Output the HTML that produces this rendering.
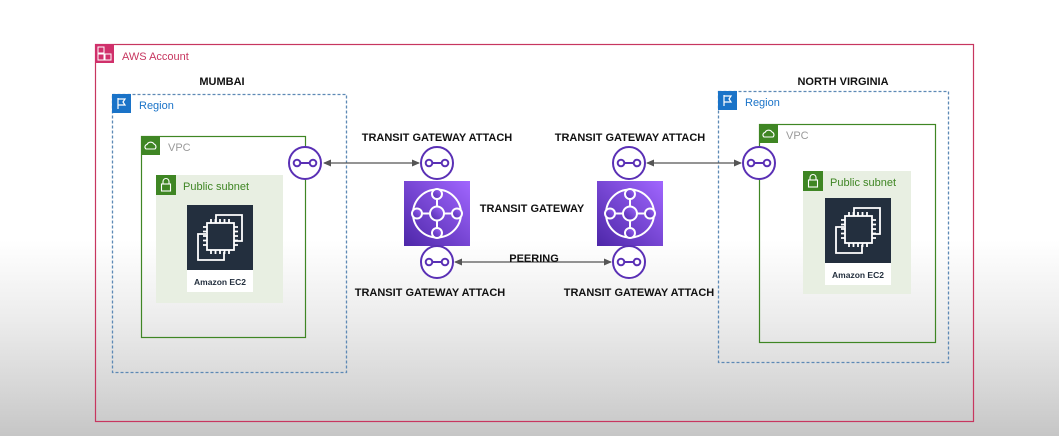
<!DOCTYPE html>
<html><head><meta charset="utf-8"><style>
html,body{margin:0;padding:0}
body{width:1059px;height:436px;overflow:hidden;background:linear-gradient(to bottom,#fff 0px,#fff 240px,#ececec 320px,#d6d6d6 390px,#c6c6c6 436px);font-family:"Liberation Sans",Arial,sans-serif}
svg{position:absolute;left:0;top:0}
</style></head><body>
<svg width="1059" height="436" viewBox="0 0 1059 436" font-family="Liberation Sans, Arial, sans-serif">
<defs>
<linearGradient id="tg" x1="0" y1="1" x2="1" y2="0"><stop offset="0" stop-color="#4d27a8"/><stop offset="1" stop-color="#a166ff"/></linearGradient>
<marker id="ah" markerWidth="8" markerHeight="8" refX="7" refY="4" orient="auto-start-reverse" markerUnits="userSpaceOnUse"><path d="M0,0.5 L8,4 L0,7.5z" fill="#555"/></marker>
<g id="att"><circle r="16" fill="#fff" stroke="#5a30b5" stroke-width="2"/><line x1="-7" y1="0" x2="7" y2="0" stroke="#5a30b5" stroke-width="2"/><circle cx="-8" r="3.3" fill="#fff" stroke="#5a30b5" stroke-width="2"/><circle cx="8" r="3.3" fill="#fff" stroke="#5a30b5" stroke-width="2"/></g>
<g id="tgw"><rect x="0" y="0" width="66" height="65" fill="url(#tg)"/><g fill="none" stroke="#fff" stroke-width="2"><circle cx="33" cy="32.5" r="24"/><line x1="33" y1="15" x2="33" y2="50"/><line x1="15" y1="32.5" x2="51" y2="32.5"/><circle cx="33" cy="32.5" r="7" fill="url(#tg)"/><circle cx="33" cy="13" r="5" fill="url(#tg)"/><circle cx="33" cy="52" r="5" fill="url(#tg)"/><circle cx="13" cy="32.5" r="5" fill="url(#tg)"/><circle cx="53" cy="32.5" r="5" fill="url(#tg)"/></g></g>
<g id="ec2"><rect width="66" height="65" fill="#232f3e"/><rect y="65" width="66" height="22" fill="#fff"/><g fill="none" stroke="#fff" stroke-width="1.8"><path d="M29 18 V10 H55 V36 H47"/><path d="M19 29 H11 V55 H37 V47"/><rect x="20" y="18" width="27" height="27"/><path d="M24 18v-4M28.5 18v-4M33 18v-4M37.5 18v-4M42 18v-4M24 45v4M28.5 45v4M33 45v4M37.5 45v4M42 45v4M20 22h-4M20 26.5h-4M20 31h-4M20 35.5h-4M20 40h-4M47 22h4M47 26.5h4M47 31h4M47 35.5h4M47 40h4"/></g><text x="33" y="80" font-size="8.5" font-weight="bold" fill="#232f3e" text-anchor="middle">Amazon EC2</text></g>
<g id="flag"><rect width="19" height="19" fill="#1a73c8"/><path d="M6 4 V15 M6 5 H13 L11 8 L13 11 H6" fill="none" stroke="#fff" stroke-width="1.2"/></g>
<g id="vpcic"><rect width="19" height="19" fill="#3f8624"/><path d="M5 13 H14 A3 3 0 0 0 13 8 A4 4 0 0 0 6 8.5 A2.5 2.5 0 0 0 5 13z" fill="none" stroke="#fff" stroke-width="1.1"/></g>
<g id="lock"><rect width="20" height="20" fill="#3f8624"/><rect x="5.5" y="9" width="9" height="7" fill="none" stroke="#fff" stroke-width="1.1"/><path d="M7 9 V6.5 A3 3 0 0 1 13 6.5 V9" fill="none" stroke="#fff" stroke-width="1.1"/></g>
</defs>

<rect x="95.5" y="44.5" width="878" height="377" fill="none" stroke="#c7365f" stroke-width="1.2"/>
<rect x="95" y="44" width="19" height="19" fill="#d0306b"/>
<rect x="98" y="47" width="6" height="6" fill="none" stroke="#fff" stroke-width="1"/><rect x="105" y="54" width="6" height="6" fill="none" stroke="#fff" stroke-width="1"/><rect x="98" y="54" width="6" height="6" fill="none" stroke="#fff" stroke-width="1"/>
<text x="122" y="60" font-size="11" fill="#c7365f">AWS Account</text>

<text x="222" y="85" font-size="11" font-weight="bold" text-anchor="middle" fill="#111">MUMBAI</text>
<rect x="112.5" y="94.5" width="234" height="278" fill="none" stroke="#5d89b5" stroke-width="1.3" stroke-dasharray="3,2"/>
<use href="#flag" x="112" y="94"/>
<text x="139" y="109" font-size="11" fill="#1a73c8">Region</text>
<rect x="141.5" y="136.5" width="164" height="201" fill="none" stroke="#3f8624" stroke-width="1.2"/>
<use href="#vpcic" x="141" y="136"/>
<text x="168" y="151" font-size="11" fill="#9a9a9a">VPC</text>
<rect x="156" y="175" width="127" height="128" fill="#e8efe2"/>
<use href="#lock" x="156" y="175"/>
<text x="183" y="190" font-size="11" fill="#3f8624">Public subnet</text>
<use href="#ec2" x="187" y="205"/>

<text x="843" y="85" font-size="11" font-weight="bold" text-anchor="middle" fill="#111">NORTH VIRGINIA</text>
<rect x="718.5" y="91.5" width="230" height="271" fill="none" stroke="#5d89b5" stroke-width="1.3" stroke-dasharray="3,2"/>
<use href="#flag" x="718" y="91"/>
<text x="745" y="106" font-size="11" fill="#1a73c8">Region</text>
<rect x="759.5" y="124.5" width="176" height="218" fill="none" stroke="#3f8624" stroke-width="1.2"/>
<use href="#vpcic" x="759" y="124"/>
<text x="786" y="139" font-size="11" fill="#9a9a9a">VPC</text>
<rect x="803" y="171" width="108" height="123" fill="#e8efe2"/>
<use href="#lock" x="803" y="171"/>
<text x="830" y="186" font-size="11" fill="#3f8624">Public subnet</text>
<use href="#ec2" x="825" y="198"/>

<line x1="324" y1="163" x2="419" y2="163" stroke="#555" stroke-width="1.3" marker-start="url(#ah)" marker-end="url(#ah)"/>
<line x1="647" y1="163" x2="741" y2="163" stroke="#555" stroke-width="1.3" marker-start="url(#ah)" marker-end="url(#ah)"/>
<line x1="455" y1="262" x2="611" y2="262" stroke="#555" stroke-width="1.3" marker-start="url(#ah)" marker-end="url(#ah)"/>

<use href="#tgw" x="404" y="181"/>
<use href="#tgw" x="597" y="181"/>
<use href="#att" x="305" y="163"/>
<use href="#att" x="437" y="163"/>
<use href="#att" x="437" y="262"/>
<use href="#att" x="629" y="163"/>
<use href="#att" x="629" y="262"/>
<use href="#att" x="759" y="163"/>

<g font-size="11" font-weight="bold" fill="#111" text-anchor="middle">
<text x="437" y="141">TRANSIT GATEWAY ATTACH</text>
<text x="630" y="141">TRANSIT GATEWAY ATTACH</text>
<text x="430" y="296">TRANSIT GATEWAY ATTACH</text>
<text x="639" y="296">TRANSIT GATEWAY ATTACH</text>
<text x="532" y="212">TRANSIT GATEWAY</text>
<text x="534" y="262">PEERING</text>
</g>
</svg>
</body></html>
